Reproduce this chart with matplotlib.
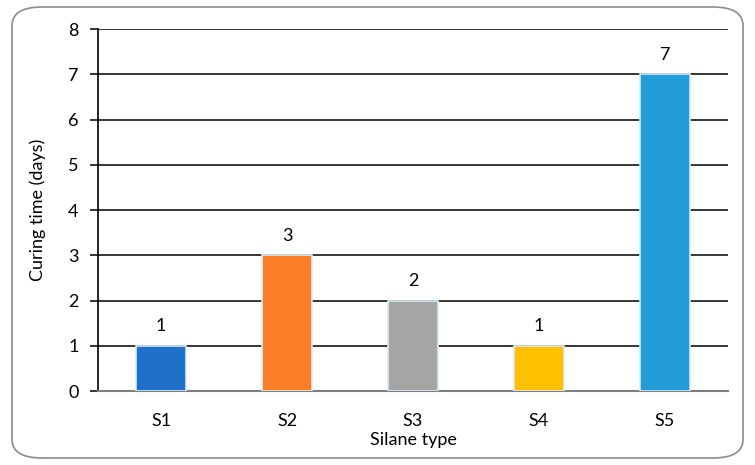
import numpy as np
import matplotlib
matplotlib.use("Agg")
import matplotlib.pyplot as plt
from matplotlib.patches import FancyBboxPatch

silanes = ["S1", "S2", "S3", "S4", "S5"]
curing_days = [1, 3, 2, 1, 7]
bar_colors = ["#1E70C8", "#FB7E29", "#A5A5A5", "#FFC000", "#229BD9"]

plt.rcParams["font.family"] = ["Lato", "DejaVu Sans"]

fig = plt.figure(figsize=(7.55, 4.65), dpi=100)
ax = fig.add_axes([98 / 755, 1 - 391 / 465, (728 - 98) / 755, (391 - 29) / 465])

# rounded frame around the whole chart
frame = FancyBboxPatch((12 / 755, 7 / 465), 731 / 755, 451 / 465,
                       boxstyle="round,pad=0,rounding_size=0.04",
                       transform=fig.transFigure, facecolor="none",
                       edgecolor="#8c8c8c", linewidth=1.2, zorder=-1)
fig.patches.append(frame)

x = np.arange(len(silanes))
ax.set_axisbelow(True)
ax.yaxis.grid(True, color="black", linewidth=1.1)
ax.bar(x, curing_days, width=0.4, color=bar_colors,
       edgecolor="#d8ecf8", linewidth=1.2, zorder=3)
for xi, v in zip(x, curing_days):
    ax.text(xi, v + 0.25, str(v), ha="center", va="bottom", fontsize=13)

ax.set_xlim(-0.5, len(silanes) - 0.5)
ax.set_ylim(0, 8)
ax.set_yticks(range(0, 9))
ax.set_xticks(x)
ax.set_xticklabels(silanes)
ax.tick_params(axis="y", length=6, width=1.1, labelsize=13, pad=8)
ax.tick_params(axis="x", length=0, labelsize=13, pad=16)

for s in ["top", "right"]:
    ax.spines[s].set_visible(False)
ax.spines["left"].set_linewidth(1.2)
ax.spines["bottom"].set_color("#7f7f7f")
ax.spines["bottom"].set_linewidth(1.5)

ax.set_xlabel("Silane type", fontsize=13, labelpad=2)
ax.set_ylabel("Curing time (days)", fontsize=13, labelpad=16)

fig.savefig("out.png", dpi=100)
